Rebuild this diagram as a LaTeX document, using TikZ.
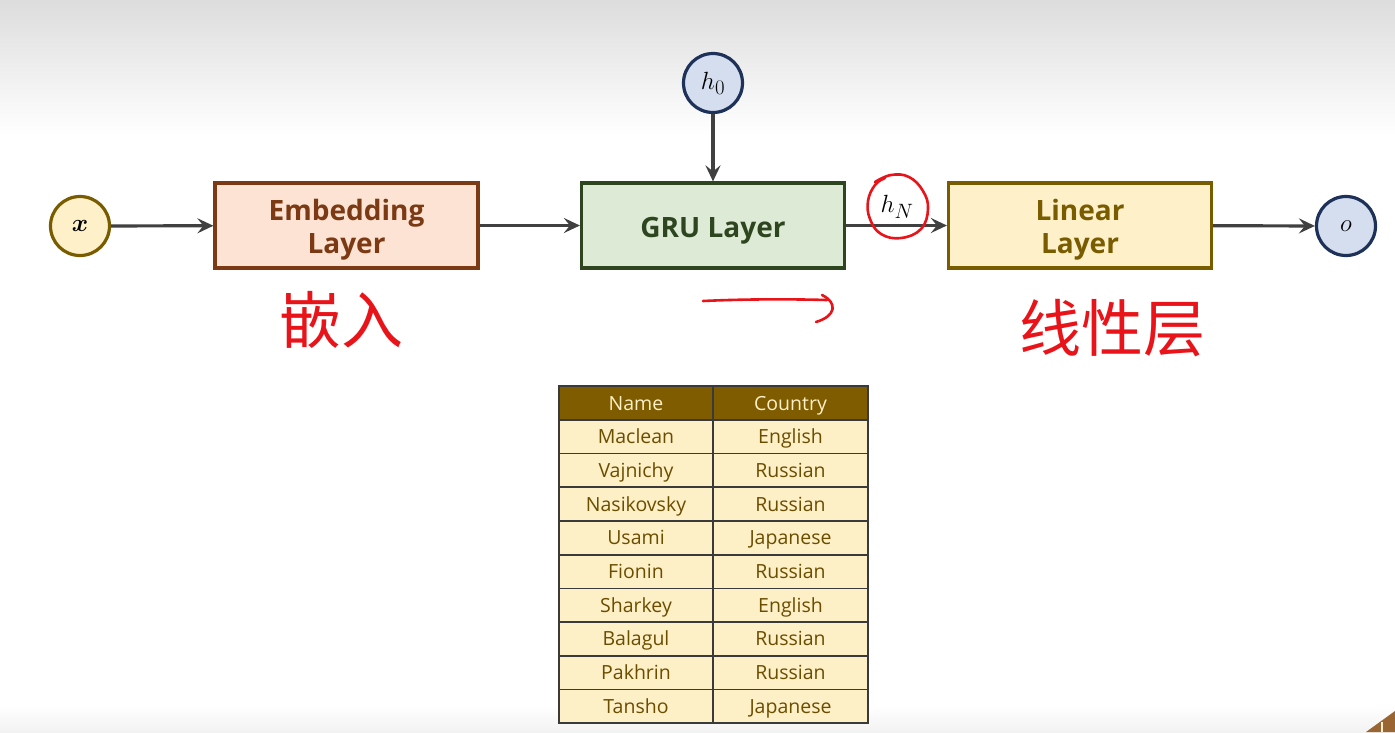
\documentclass[tikz,border=0pt]{standalone}
\usepackage{bm}
\usepackage{fontspec}
\setmainfont{Open Sans}
\newfontfamily\cjkhand{Noto Sans CJK SC}
\usetikzlibrary{arrows.meta}

\definecolor{embfill}{HTML}{FDE3D3}
\definecolor{embdraw}{HTML}{7B3A13}
\definecolor{grufill}{HTML}{DDEBD6}
\definecolor{grudraw}{HTML}{2E4620}
\definecolor{linfill}{HTML}{FEF0C9}
\definecolor{lindraw}{HTML}{7A5C00}
\definecolor{bluefill}{HTML}{D4DEEF}
\definecolor{bluedraw}{HTML}{1E3158}
\definecolor{arrowgray}{HTML}{404040}
\definecolor{handred}{HTML}{E8141A}
\definecolor{tabhead}{HTML}{7F5C00}
\definecolor{tabcell}{HTML}{FDEFC6}
\definecolor{tabtext}{HTML}{6B4D00}
\definecolor{tabline}{HTML}{3A3A3A}

\tikzset{
  layerbox/.style={rectangle, minimum width=263, minimum height=85, inner sep=0,
    line width=3.2pt, align=center, text depth=0pt,
    font=\bfseries\fontsize{28}{33}\selectfont},
  oneline/.style={text height=24pt},
  twoline/.style={text height=55pt},
  varnode/.style={circle, minimum size=59, inner sep=0, line width=3.2pt,
    font=\fontsize{29}{30}\selectfont},
  conn/.style={draw=arrowgray, line width=3.2pt,
    -{Stealth[length=16pt,width=15pt,inset=6pt]}},
  cell/.style={rectangle, minimum width=154.5, minimum height=33.7, inner sep=0,
    draw=tabline, line width=1.7pt, fill=tabcell, text=tabtext,
    text height=14pt, text depth=0pt,
    font=\fontsize{19.5}{22}\selectfont},
  headcell/.style={cell, fill=tabhead, text=tabcell},
  handpen/.style={draw=handred, line width=2.6pt, line cap=round, line join=round},
  handtext/.style={text=handred, font=\cjkhand\fontsize{62}{64}\selectfont, inner sep=0},
}

\begin{document}
\begin{tikzpicture}[x=1pt, y=-1pt]
  % page and the soft grey band at the top
  \fill[white] (0,0) rectangle (1395,732);
  \fill[top color=gray!27, bottom color=white] (0,0) rectangle (1395,135);
  \fill[bottom color=gray!10, top color=white] (0,705) rectangle (1395,732);
  \useasboundingbox (0,0) rectangle (1395,732);
  % small corner ornament
  \fill[brown!80!black] (1366,732) -- (1395,711) -- (1395,732) -- cycle;
  \draw[linfill, line width=1.2pt] (1382,732) -- (1382,722);

  % model pipeline
  \node[varnode, fill=linfill, draw=lindraw] (x) at (80,226) {$\bm{x}$};
  \node[layerbox, twoline, fill=embfill, draw=embdraw, text=embdraw] (emb) at (346.5,225.5) {Embedding\\Layer};
  \node[layerbox, oneline, fill=grufill, draw=grudraw, text=grudraw] (gru) at (713,225.5) {GRU Layer};
  \node[layerbox, twoline, fill=linfill, draw=lindraw, text=lindraw] (lin) at (1080,225.5) {Linear\\Layer};
  \node[varnode, fill=bluefill, draw=bluedraw] (o) at (1346,226) {$o$};
  \node[varnode, fill=bluefill, draw=bluedraw] (h0) at (713,83) {$h_0$};

  \draw[conn] (x) -- (emb);
  \draw[conn] (emb) -- (gru);
  \draw[conn] (h0) -- (gru);
  \draw[conn] (gru) -- (lin);
  \draw[conn] (lin) -- (o);
  \node[font=\fontsize{29}{30}\selectfont, inner sep=0] (hN) at (897,207) {$h_N$};

  % red pen notes
  \draw[handpen, shift={(hN.center)}] plot[smooth, tension=0.7] coordinates
    {(-22,-25) (-6,-32) (12,-30) (26,-16) (31,2) (24,22) (4,31) (-16,27) (-27,12) (-29,-6) (-22,-22) (-12,-29)};
  \draw[handpen] (703,301) .. controls (745,299) and (790,299) .. (827,300);
  \draw[handpen] (822,295) .. controls (838,303) and (836,316) .. (816,322);
  \node[handtext] (embnote) at (341,320) {嵌入};
  \node[handtext] (linnote) at (1112,328) {线性层};

  % sample data table
  \node[headcell] (hname) at (636,403) {Name};
  \node[headcell] (hcountry) at (790.5,403) {Country};
  \foreach \nm/\ct [count=\i] in {Maclean/English, Vajnichy/Russian, Nasikovsky/Russian,
      Usami/Japanese, Fionin/Russian, Sharkey/English, Balagul/Russian,
      Pakhrin/Russian, Tansho/Japanese} {
    \node[cell] (name\i) at (636,{403+\i*33.7}) {\nm};
    \node[cell] (country\i) at (790.5,{403+\i*33.7}) {\ct};
  }
\end{tikzpicture}
\end{document}
